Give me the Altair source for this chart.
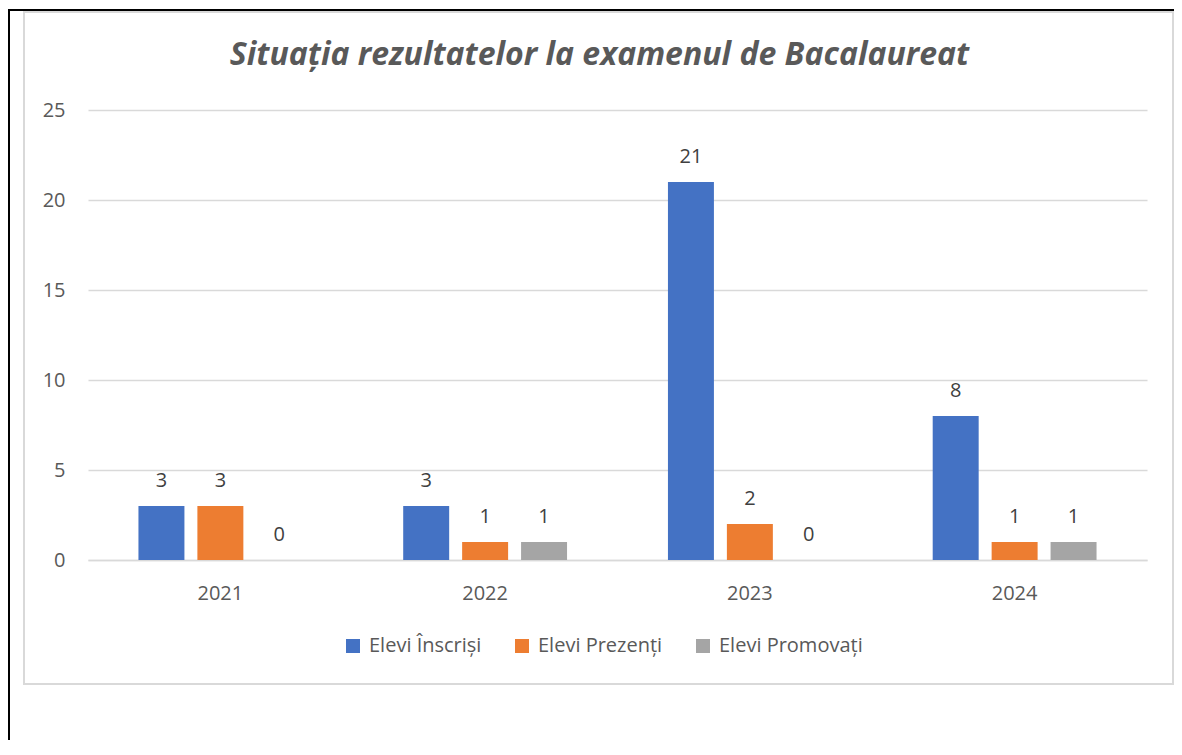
import altair as alt
import pandas as pd

years = ["2021", "2022", "2023", "2024"]
series = ["Elevi Înscriși", "Elevi Prezenți", "Elevi Promovați"]
inscrisi = [3, 3, 21, 8]
prezenti = [3, 1, 2, 1]
promovati = [0, 1, 0, 1]
colors = ["#4472C4", "#ED7D31", "#A5A5A5"]
y_ticks = [0, 5, 10, 15, 20, 25]
title_text = "Situația rezultatelor la examenul de Bacalaureat"

rows = []
for i, yr in enumerate(years):
    for s, vals in zip(series, [inscrisi, prezenti, promovati]):
        rows.append({"an": yr, "serie": s, "valoare": vals[i]})
df = pd.DataFrame(rows)
deco = pd.DataFrame({"titlu": [title_text]})

FONT = "Open Sans"
W, H = 1059, 450
GRAY_TXT = "#595959"
FS = 20

x_enc = alt.X(
    "an:N", sort=years,
    scale=alt.Scale(paddingInner=0, paddingOuter=0),
    axis=alt.Axis(title=None, labelFontSize=FS, labelColor=GRAY_TXT, labelFont=FONT,
                  labelPadding=23, ticks=False, domain=True, domainColor="#D9D9D9",
                  domainWidth=1.5, labelAngle=0, grid=False),
)
xo_enc = alt.XOffset("serie:N", sort=series,
                     scale=alt.Scale(paddingInner=0.22, paddingOuter=0.856))
y_enc = alt.Y(
    "valoare:Q",
    scale=alt.Scale(domain=[0, 25], nice=False),
    axis=alt.Axis(values=y_ticks, title=None, labelFontSize=FS, labelColor=GRAY_TXT,
                  labelFont=FONT, labelPadding=23, ticks=False, domain=False,
                  gridColor="#D9D9D9", gridWidth=1.5),
)
color_enc = alt.Color(
    "serie:N", sort=series,
    scale=alt.Scale(domain=series, range=colors),
    legend=alt.Legend(orient="none", legendX=255, legendY=526, direction="horizontal",
                      title=None, symbolType="square", symbolSize=196,
                      symbolStrokeWidth=0, labelFontSize=FS, labelColor=GRAY_TXT,
                      labelFont=FONT, columnPadding=30, labelOffset=6),
)

bars = alt.Chart(df).mark_bar().encode(x=x_enc, xOffset=xo_enc, y=y_enc, color=color_enc)
labels = alt.Chart(df).mark_text(dy=-25, baseline="middle", fontSize=FS,
                                 color="#404040", font=FONT).encode(
    x=x_enc, xOffset=xo_enc, y=y_enc, text="valoare:Q")

frame = alt.Chart(deco).mark_rect(fill="transparent", stroke="#D9D9D9", strokeWidth=2).encode(
    x=alt.value(-64), x2=alt.value(1085), y=alt.value(-98), y2=alt.value(574))
top_line = alt.Chart(deco).mark_rule(color="black", strokeWidth=2).encode(
    x=alt.value(-80), x2=alt.value(1086), y=alt.value(-100))
left_line = alt.Chart(deco).mark_rule(color="black", strokeWidth=2).encode(
    x=alt.value(-79), y=alt.value(-100), y2=alt.value(630))
title = alt.Chart(deco).mark_text(fontSize=32, fontStyle="italic", fontWeight="bold",
                                  color=GRAY_TXT, font=FONT, align="center",
                                  baseline="alphabetic").encode(
    x=alt.value(511.5), y=alt.value(-45), text="titlu:N")

chart = alt.layer(frame, top_line, left_line, title, bars, labels).properties(
    width=W, height=H,
    autosize=alt.AutoSizeParams(type="none"),
    padding={"left": 80, "top": 102, "right": 27, "bottom": 180},
).configure(background="white").configure_view(stroke=None)

chart.save("out.html", embed_options={"renderer": "svg", "actions": False})
